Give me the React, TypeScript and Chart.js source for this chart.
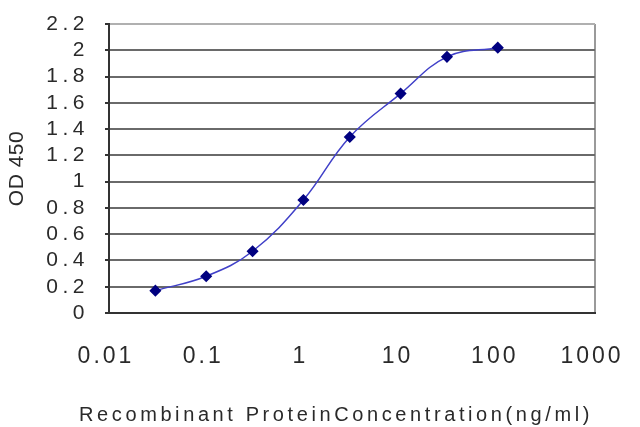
import React, { useEffect, useRef } from "react";
import { Chart, registerables } from "chart.js";

Chart.register(...registerables);

const concentrations = [0.03, 0.1, 0.3, 1, 3, 10, 30, 100];
const odValues = [0.17, 0.28, 0.47, 0.86, 1.34, 1.67, 1.95, 2.02];
const xTickValues = [0.01, 0.1, 1, 10, 100, 1000];
const yMin = 0;
const yMax = 2.2;
const yStep = 0.2;
const xTitle = "Recombinant ProteinConcentration(ng/ml)";
const yTitle = "OD 450";

const FONT = "'Liberation Sans', Arial, sans-serif";
const TEXT = "#2a2a2a";

function wrapSpacing(scale: any, method: string, spacing: string, dx: number, dy: number, widen = 0) {
  const orig = scale[method];
  scale[method] = function (...args: any[]) {
    const ctx = this.ctx as CanvasRenderingContext2D;
    ctx.save();
    (ctx as any).letterSpacing = spacing;
    ctx.translate(dx, dy);
    this.left -= widen;
    this.right += widen;
    try {
      orig.apply(this, args);
    } finally {
      this.left += widen;
      this.right -= widen;
      ctx.restore();
    }
  };
}

const spacingPlugin = {
  id: "spacingPlugin",
  beforeDraw(chart: any) {
    if (chart.$spacedDone) return;
    chart.$spacedDone = true;
    wrapSpacing(chart.scales.x, "drawLabels", "3px", -3, 27);
    wrapSpacing(chart.scales.x, "drawTitle", "3.6px", -16, 0, 60);
    wrapSpacing(chart.scales.y, "drawLabels", "4.5px", -14, 0);
    wrapSpacing(chart.scales.y, "drawTitle", "0.5px", 0, 0);
  },
};

export default function App() {
  const ref = useRef<HTMLCanvasElement | null>(null);

  useEffect(() => {
    if (!ref.current) return;
    const chart = new Chart(ref.current, {
      type: "line",
      data: {
        datasets: [
          {
            data: concentrations.map((x, i) => ({ x, y: odValues[i] })),
            borderColor: "#4040c8",
            borderWidth: 1.5,
            backgroundColor: "#000080",
            pointBackgroundColor: "#000080",
            pointBorderColor: "#000080",
            pointStyle: "rectRot",
            pointRadius: 5,
            tension: 0.4,
            fill: false,
          },
        ],
      },
      options: {
        responsive: false,
        animation: false,
        devicePixelRatio: 1,
        layout: { padding: { top: 24, right: 45, left: 0, bottom: 0 } },
        plugins: { legend: { display: false }, tooltip: { enabled: false } },
        scales: {
          x: {
            type: "logarithmic",
            min: xTickValues[0],
            max: xTickValues[xTickValues.length - 1],
            afterBuildTicks: (scale: any) => {
              scale.ticks = xTickValues.map((v) => ({ value: v }));
            },
            afterFit: (scale: any) => {
              scale.height = 114;
            },
            grid: {
              drawTicks: false,
              color: (c: any) => (c.tick && c.tick.value === 1000 ? "#9a9a9a" : "rgba(0,0,0,0)"),
              lineWidth: 2,
            },
            border: { display: true, color: "#333333", width: 2 },
            ticks: {
              autoSkip: false,
              maxRotation: 0,
              padding: 3,
              color: TEXT,
              font: { family: FONT, size: 23 },
              callback: (v: any) => String(v),
            },
            title: {
              display: true,
              text: xTitle,
              color: TEXT,
              font: { family: FONT, size: 20 },
              padding: { top: 16, bottom: 0 },
            },
          },
          y: {
            type: "linear",
            min: yMin,
            max: yMax,
            afterFit: (scale: any) => {
              scale.width = 109;
            },
            grid: {
              color: (c: any) => (c.tick && Math.abs(c.tick.value - yMax) < 1e-6 ? "#b0b0b0" : "#6a6a6a"),
              lineWidth: 2,
              tickLength: 4,
              tickColor: "#333333",
            },
            border: { display: true, color: "#333333", width: 2 },
            ticks: {
              autoSkip: false,
              stepSize: yStep,
              padding: 2,
              color: TEXT,
              font: { family: FONT, size: 21 },
              callback: (v: any) => String(Math.round(Number(v) * 10) / 10),
            },
            title: {
              display: true,
              text: yTitle,
              color: TEXT,
              font: { family: FONT, size: 21 },
              padding: { top: 5, bottom: 0 },
            },
          },
        },
      },
      plugins: [spacingPlugin],
    } as any);
    return () => chart.destroy();
  }, []);

  return (
    <div style={{ position: "fixed", left: 0, top: 0, width: 640, height: 427, background: "#fff" }}>
      <canvas ref={ref} width={640} height={427} style={{ display: "block", width: 640, height: 427 }} />
    </div>
  );
}
